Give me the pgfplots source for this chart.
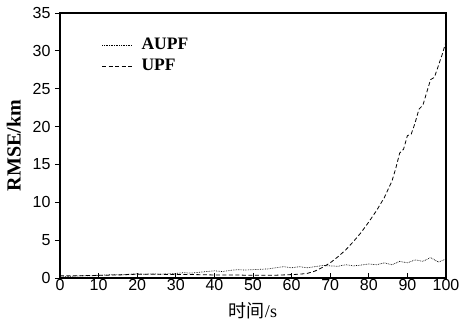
\documentclass[border=0pt]{standalone}
\usepackage{pgfplots}
\pgfplotsset{compat=1.18}
\usepackage{fontspec}
\setmainfont{Liberation Serif}
\newfontfamily\arialfont{Liberation Sans}
\newfontfamily\cjk{Noto Sans CJK SC}
\begin{document}
\begin{tikzpicture}
\begin{axis}[
  scale only axis,
  width=386pt, height=265pt,
  xmin=0, xmax=100, ymin=0, ymax=35,
  xtick={0,10,...,100}, ytick={0,5,...,35},
  tickpos=left,
  xtick align=inside, ytick align=outside,
  major tick length=5pt,
  axis line style={line width=1.1pt},
  tick style={line width=0.8pt, black},
  /pgf/number format/assume math mode=true,
  tick label style={font=\arialfont\fontsize{16}{16}\selectfont},
  xticklabel style={yshift=2pt},
  yticklabel style={xshift=-1pt},
  xlabel={{\cjk 时间}/s},
  ylabel={RMSE/km},
  xlabel style={font=\fontsize{18}{18}\selectfont, yshift=-5pt},
  ylabel style={font=\bfseries\fontsize{20}{20}\selectfont, yshift=5pt},
  legend style={draw=none, fill=none, at={(axis cs:10.0,32.2)}, anchor=north west,
    font=\bfseries\fontsize{17.5}{17.5}\selectfont, row sep=4pt,
    /tikz/every odd column/.append style={column sep=7pt}},
  legend cell align=left,
  legend image code/.code={\draw[#1] (0pt,0pt) -- (30pt,0pt);},
]
\addplot[black, line width=0.7pt, densely dotted] coordinates {
(0,0.25)(2,0.2)(4,0.25)(6,0.3)(8,0.28)(10,0.35)(12,0.4)(14,0.45)(16,0.42)(18,0.5)
(20,0.55)(22,0.5)(24,0.55)(26,0.5)(28,0.55)(30,0.6)(32,0.7)(34,0.65)(36,0.75)(38,0.85)
(40,0.95)(42,0.85)(44,1.0)(46,1.1)(48,1.05)(50,1.1)(52,1.15)(54,1.2)(56,1.35)(58,1.5)
(60,1.35)(62,1.5)(64,1.35)(66,1.5)(68,1.65)(70,1.6)(72,1.55)(74,1.75)(76,1.6)(78,1.7)
(80,1.85)(82,1.75)(84,2.0)(86,1.75)(88,2.2)(90,2.0)(92,2.4)(94,2.2)(96,2.7)(98,2.1)(100,2.5)
};
\addlegendentry{AUPF}
\addplot[black, line width=0.8pt, dash pattern=on 4pt off 2.5pt] coordinates {
(0,0.3)(5,0.3)(10,0.35)(15,0.4)(20,0.5)(25,0.5)(30,0.45)(35,0.45)(40,0.4)(45,0.4)
(50,0.35)(55,0.35)(60,0.45)(62,0.5)(64,0.6)(66,0.9)(68,1.4)(70,2.0)(72,2.8)(74,3.7)
(76,4.8)(78,6.0)(80,7.4)(82,8.9)(84,10.6)(86,12.8)(87,14.5)(88,16.5)(89,17.0)(90,18.8)
(91,19.0)(92,20.5)(93,22.3)(94,22.8)(95,24.5)(96,26.2)(97,26.5)(98,28.0)(99,29.5)(100,31.2)
};
\addlegendentry{UPF}
\end{axis}
\pgfresetboundingbox
\path ([shift={(-60pt,-45pt)}]current axis.south west) rectangle ([shift={(13pt,13pt)}]current axis.north east);
\end{tikzpicture}
\end{document}
